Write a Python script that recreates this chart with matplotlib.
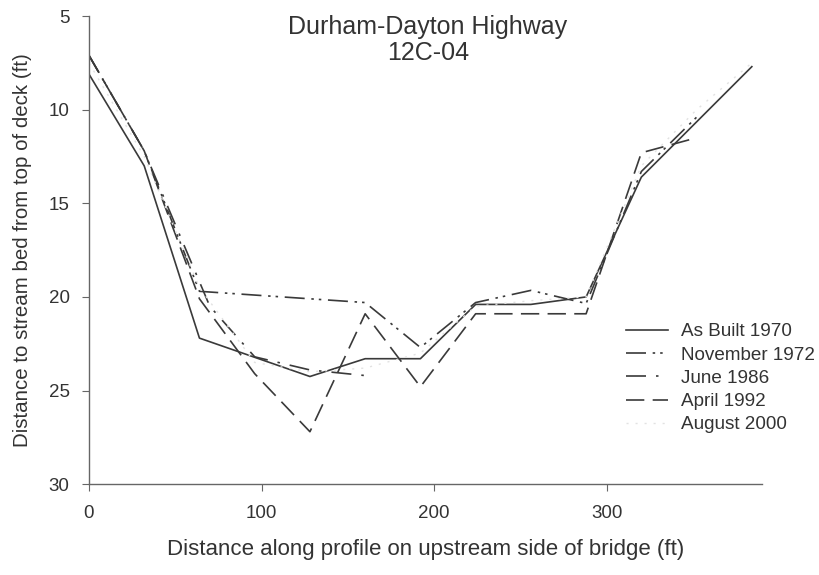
import matplotlib
matplotlib.use("Agg")
import matplotlib.pyplot as plt

plt.rcParams['font.family'] = ['Liberation Sans', 'DejaVu Sans']

# survey stations (ft) and depth to stream bed from top of deck (ft)
x_1970 = [0, 32, 64, 128, 160, 192, 224, 256, 288, 320, 384]
y_1970 = [8.1, 13.0, 22.2, 24.25, 23.3, 23.3, 20.4, 20.4, 20.0, 13.6, 7.7]

x_1972 = [0, 32, 64, 160, 192, 224, 256, 288, 320, 352]
y_1972 = [7.1, 12.2, 19.7, 20.3, 22.7, 20.3, 19.65, 20.35, 13.3, 10.4]

x_1986 = [0, 32, 70, 96, 128, 160]
y_1986 = [7.1, 12.2, 20.5, 23.2, 23.9, 24.2]

x_1992 = [0, 32, 64, 96, 128, 160, 192, 224, 288, 320, 352]
y_1992 = [7.1, 12.2, 20.1, 24.1, 27.2, 20.9, 24.8, 20.9, 20.9, 12.3, 11.5]

x_2000 = [0, 32, 64, 96, 128, 160, 192, 224, 256, 288, 320, 352, 384]
y_2000 = [7.5, 12.5, 19.5, 23.5, 24.0, 23.8, 23.0, 20.5, 20.2, 20.0, 13.0, 10.0, 7.5]

fig = plt.figure(figsize=(8.2, 5.75), dpi=100)
ax = fig.add_axes([0.1085, 0.158, 0.821, 0.814])

c = '#3a3a3a'
ax.plot(x_1970, y_1970, color=c, lw=1.2, label='As Built 1970')
ax.plot(x_1972, y_1972, color=c, lw=1.2, dashes=(12, 4, 1.5, 3, 1.5, 4), label='November 1972')
ax.plot(x_1986, y_1986, color=c, lw=1.2, dashes=(12, 6, 1.5, 6), label='June 1986')
ax.plot(x_1992, y_1992, color=c, lw=1.2, dashes=(11, 5), label='April 1992')
ax.plot(x_2000, y_2000, color='#e2e2e2', lw=1.0, dashes=(1.5, 5), label='August 2000')

ax.set_xlim(0, 390)
ax.set_ylim(30, 5)
ax.set_xticks([0, 100, 200, 300])
ax.set_yticks([5, 10, 15, 20, 25, 30])
for s in ['top', 'right']:
    ax.spines[s].set_visible(False)
for s in ['left', 'bottom']:
    ax.spines[s].set_color('#666666')
    ax.spines[s].set_linewidth(1.0)
ax.tick_params(colors='#666666', labelcolor='#333333', labelsize=13.5, length=5)
ax.tick_params(axis='x', pad=10)
ax.tick_params(axis='y', pad=9)

ax.set_xlabel('Distance along profile on upstream side of bridge (ft)', fontsize=16, color='#333333', labelpad=12)
ax.set_ylabel('Distance to stream bed from top of deck (ft)', fontsize=14.8, color='#333333', labelpad=12)

fig.text(0.522, 0.93, 'Durham-Dayton Highway\n12C-04', ha='center', va='center',
         fontsize=18, color='#333333', linespacing=1.1)

ax.legend(loc='center left', bbox_to_anchor=(0.764, 0.342), bbox_transform=fig.transFigure,
          frameon=False, fontsize=13.6, handlelength=2.2, handletextpad=0.7,
          labelspacing=0.32, borderpad=0, borderaxespad=0, labelcolor='#333333')

fig.savefig('out.png', dpi=100)
